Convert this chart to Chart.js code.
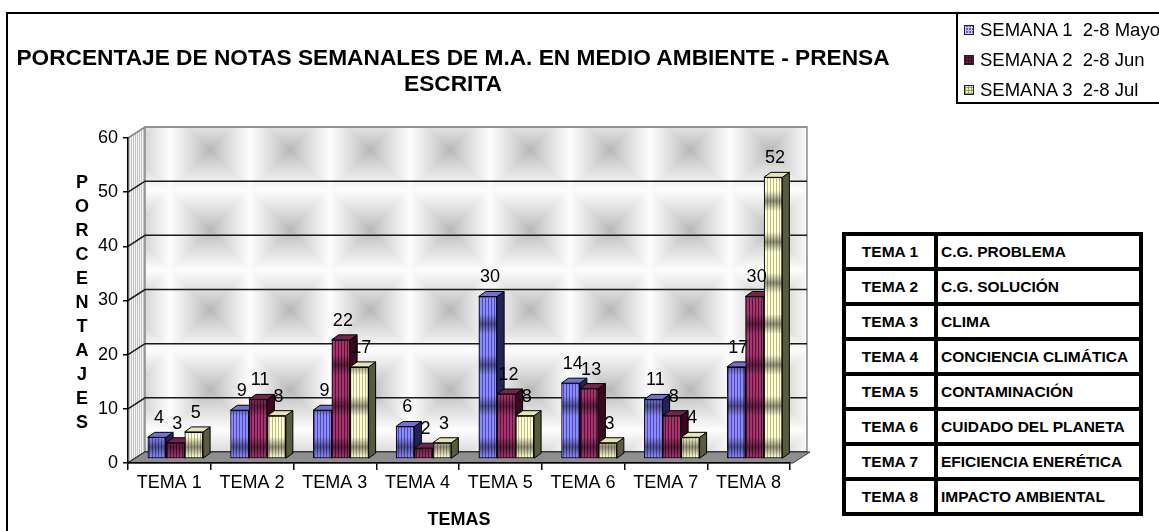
<!DOCTYPE html>
<html><head><meta charset="utf-8">
<script src="https://cdn.jsdelivr.net/npm/chart.js@4.4.0/dist/chart.umd.min.js"></script>
<style>
html,body{margin:0;padding:0;background:#fff;}
body{width:1159px;height:531px;position:relative;overflow:hidden;font-family:"Liberation Sans",Arial,sans-serif;color:#000;}
#frame{position:absolute;left:6px;top:12px;width:1300px;height:700px;border:2px solid #000;box-sizing:border-box;}
#cv{position:absolute;left:0;top:0;}
#title{position:absolute;left:0;top:44px;width:906px;text-align:center;font-weight:bold;font-size:22.7px;line-height:26px;white-space:nowrap;}
#ytitle{position:absolute;left:70px;top:170px;width:24px;text-align:center;font-weight:bold;font-size:18px;line-height:24px;}
#legend{position:absolute;left:956px;top:12px;width:300px;height:92px;border:2px solid #000;box-sizing:border-box;background:#fff;font-size:18.5px;padding-top:1px;}
.lrow{height:30px;line-height:30px;white-space:pre;position:relative;padding-left:22px;}
.mk{position:absolute;left:6px;top:10px;width:10px;height:10px;box-sizing:border-box;border:1px solid #222;}
#table{position:absolute;left:842px;top:232px;background:#000;padding:4px;display:grid;grid-template-columns:88px 201px;grid-auto-rows:31px;gap:4px;}
#table div{background:#fff;font-weight:bold;font-size:15.5px;line-height:31px;white-space:nowrap;overflow:hidden;}
#table .c1{text-align:center;}
#table .c2{padding-left:3px;}
</style>
</head><body>
<div id="frame"></div>
<canvas id="cv" width="1159" height="531"></canvas>
<div id="title"></div>
<div id="ytitle"></div>
<div id="legend"></div>
<div id="table"></div>
<script>
// ---------- data ----------
const chartTitle = ['PORCENTAJE DE NOTAS SEMANALES DE M.A. EN MEDIO AMBIENTE - PRENSA', 'ESCRITA'];
const yAxisTitle = 'PORCENTAJES';
const xAxisTitle = 'TEMAS';
const categories = ['TEMA 1','TEMA 2','TEMA 3','TEMA 4','TEMA 5','TEMA 6','TEMA 7','TEMA 8'];
const seriesNames = ['SEMANA 1  2-8 Mayo','SEMANA 2  2-8 Jun','SEMANA 3  2-8 Jul'];
const semana1 = [4, 9, 9, 6, 30, 14, 11, 17];
const semana2 = [3, 11, 22, 2, 12, 13, 8, 30];
const semana3 = [5, 8, 17, 3, 8, 3, 4, 52];
const yTicks = [0, 10, 20, 30, 40, 50, 60];
const temaNames = ['C.G. PROBLEMA','C.G. SOLUCIÓN','CLIMA','CONCIENCIA CLIMÁTICA','CONTAMINACIÓN','CUIDADO DEL PLANETA','EFICIENCIA ENERÉTICA','IMPACTO AMBIENTAL'];

// ---------- styles ----------
const FONT = '"Liberation Sans", Arial, sans-serif';
const frontLight = ['#8c8cff', '#a3366f', '#ffffd0'];
const frontDark  = ['#4c4cb0', '#5e1038', '#b8b890'];
const sideColors = ['#23235a', '#3a0820', '#5a5a3c'];
const topColors  = ['#7070d8', '#7a1f4f', '#e6e6b4'];
const markerBg = ['#5f5fe6', '#7a1a48', '#f2f2c0'];
const markerLine = ['#c8c8ff', '#3a0820', '#9a9a70'];

// ---------- html texts ----------
document.getElementById('title').innerHTML = chartTitle.join('<br>');
document.getElementById('ytitle').innerHTML = yAxisTitle.split('').join('<br>');
const lg = document.getElementById('legend');
seriesNames.forEach((n, i) => {
  const r = document.createElement('div'); r.className = 'lrow';
  const m = document.createElement('span'); m.className = 'mk';
  m.style.background = `repeating-linear-gradient(90deg, ${markerLine[i]} 0 1px, transparent 1px 3px), repeating-linear-gradient(0deg, ${markerLine[i]} 0 1px, ${markerBg[i]} 1px 3px)`;
  r.appendChild(m); r.appendChild(document.createTextNode(n)); lg.appendChild(r);
});
const tb = document.getElementById('table');
categories.forEach((c, i) => {
  const a = document.createElement('div'); a.className = 'c1'; a.textContent = c;
  const b = document.createElement('div'); b.className = 'c2'; b.textContent = temaNames[i];
  tb.appendChild(a); tb.appendChild(b);
});

// ---------- patterns ----------
const pctx = document.createElement('canvas').getContext('2d');
function barPattern(light, dark) {
  const c = document.createElement('canvas'); c.width = 3; c.height = 41;
  const g = c.getContext('2d');
  g.fillStyle = light; g.fillRect(0, 0, 3, 41);
  g.fillStyle = dark; g.fillRect(2, 0, 1, 41);
  const gr = g.createLinearGradient(0, 0, 0, 41);
  gr.addColorStop(0, 'rgba(0,0,0,0.45)'); gr.addColorStop(0.25, 'rgba(0,0,0,0)');
  gr.addColorStop(0.75, 'rgba(0,0,0,0)'); gr.addColorStop(1, 'rgba(0,0,0,0.45)');
  g.fillStyle = gr; g.fillRect(0, 0, 3, 41);
  return pctx.createPattern(c, 'repeat');
}
function wallPattern() {
  const s = 80, c = document.createElement('canvas'); c.width = s; c.height = s;
  const g = c.getContext('2d'); const im = g.createImageData(s, s); const h = s / 2;
  for (let y = 0; y < s; y++) for (let x = 0; x < s; x++) {
    const t = Math.max(Math.abs(x + 0.5 - h), Math.abs(y + 0.5 - h)) / h;
    const v = Math.round(180 + (253 - 180) * Math.pow(t, 0.8));
    const k = (y * s + x) * 4; im.data[k] = im.data[k + 1] = im.data[k + 2] = v; im.data[k + 3] = 255;
  }
  g.putImageData(im, 0, 0);
  const p = pctx.createPattern(c, 'repeat');
  p.setTransform(new DOMMatrix([1, 0, 0, 1, 10, 30]));
  return p;
}
function sidePattern() {
  const c = document.createElement('canvas'); c.width = 2; c.height = 2;
  const g = c.getContext('2d');
  g.fillStyle = '#f4f4f4'; g.fillRect(0, 0, 2, 2);
  g.fillStyle = '#c4c4c4'; g.fillRect(1, 0, 1, 2);
  return pctx.createPattern(c, 'repeat');
}
const WALL = wallPattern(), SIDE = sidePattern();

// ---------- 3D geometry ----------
const D = {x: 17, y: -11};   // floor / wall depth
const MID = {x: 6, y: -4};   // bar row position on the floor
const BD = {x: 7, y: -5};    // bar thickness

const box3d = {
  id: 'box3d',
  beforeDraw(chart) {
    const {ctx, chartArea: a, scales: {y}} = chart;
    ctx.save();
    ctx.beginPath();
    ctx.moveTo(a.left, a.top); ctx.lineTo(a.left + D.x, a.top + D.y);
    ctx.lineTo(a.left + D.x, a.bottom + D.y); ctx.lineTo(a.left, a.bottom); ctx.closePath();
    ctx.fillStyle = SIDE; ctx.fill();
    ctx.strokeStyle = '#8a8a8a'; ctx.lineWidth = 1; ctx.stroke();
    ctx.fillStyle = WALL;
    ctx.fillRect(a.left + D.x, a.top + D.y, a.right - a.left, a.bottom - a.top);
    ctx.strokeStyle = '#8a8a8a'; ctx.lineWidth = 1.5;
    ctx.strokeRect(a.left + D.x, a.top + D.y, a.right - a.left, a.bottom - a.top);
    yTicks.forEach(v => {
      const py = y.getPixelForValue(v);
      ctx.beginPath();
      ctx.moveTo(a.left, py); ctx.lineTo(a.left + D.x, py + D.y); ctx.lineTo(a.right + D.x, py + D.y);
      ctx.strokeStyle = (v === yTicks[yTicks.length - 1]) ? '#8a8a8a' : '#1a1a1a';
      ctx.lineWidth = 1.5; ctx.stroke();
    });
    ctx.beginPath();
    ctx.moveTo(a.left, a.bottom); ctx.lineTo(a.right + 3, a.bottom);
    ctx.lineTo(a.right + 3 + D.x, a.bottom + D.y); ctx.lineTo(a.left + D.x, a.bottom + D.y); ctx.closePath();
    ctx.fillStyle = '#8e8e8e'; ctx.fill();
    ctx.strokeStyle = '#3a3a3a'; ctx.lineWidth = 1; ctx.stroke();
    ctx.restore();
  },
  beforeDatasetsDraw(chart) {
    chart.ctx.save();
    chart.ctx.translate(MID.x, MID.y);
  },
  afterDatasetsDraw(chart) {
    const ctx = chart.ctx;
    const metas = chart.data.datasets.map((_, i) => chart.getDatasetMeta(i));
    for (let c = 0; c < categories.length; c++) {
      metas.forEach((m, s) => {
        const el = m.data[c];
        el.draw(ctx);
        const {x, y, base, width} = el.getProps(['x', 'y', 'base', 'width'], true);
        const l = x - width / 2, r = x + width / 2;
        ctx.save();
        ctx.lineWidth = 1; ctx.strokeStyle = '#000'; ctx.lineJoin = 'round';
        ctx.beginPath();
        ctx.moveTo(r, y); ctx.lineTo(r + BD.x, y + BD.y); ctx.lineTo(r + BD.x, base + BD.y); ctx.lineTo(r, base); ctx.closePath();
        ctx.fillStyle = sideColors[s]; ctx.fill(); ctx.stroke();
        ctx.beginPath();
        ctx.moveTo(l, y); ctx.lineTo(l + BD.x, y + BD.y); ctx.lineTo(r + BD.x, y + BD.y); ctx.lineTo(r, y); ctx.closePath();
        ctx.fillStyle = topColors[s]; ctx.fill(); ctx.stroke();
        ctx.restore();
      });
    }
    ctx.font = '18px ' + FONT; ctx.fillStyle = '#000';
    ctx.textAlign = 'center'; ctx.textBaseline = 'middle';
    metas.forEach((m, s) => m.data.forEach((el, c) => {
      ctx.fillText(String(chart.data.datasets[s].data[c]), el.x + 2, el.y - 19);
    }));
    ctx.restore();
  }
};

const seriesData = [semana1, semana2, semana3];
new Chart(document.getElementById('cv'), {
  type: 'bar',
  data: {
    labels: categories,
    datasets: seriesData.map((d, i) => ({
      label: seriesNames[i],
      data: d,
      backgroundColor: barPattern(frontLight[i], frontDark[i]),
      borderColor: '#000',
      borderWidth: 1,
      borderSkipped: false,
      categoryPercentage: 0.67,
      barPercentage: 1.0,
      clip: false
    }))
  },
  options: {
    responsive: false, animation: false, devicePixelRatio: 1,
    layout: {padding: {left: 0, right: 369, top: 138, bottom: 0}},
    plugins: {legend: {display: false}, title: {display: false}, tooltip: {enabled: false}},
    scales: {
      x: {
        grid: {display: true, drawOnChartArea: false, tickLength: 7, color: '#000', lineWidth: 1.5, offset: true},
        border: {display: true, color: '#000', width: 1.5},
        ticks: {font: {size: 18, family: FONT}, color: '#000', padding: 2, maxRotation: 0, autoSkip: false},
        title: {display: true, text: xAxisTitle, font: {size: 18, weight: 'bold', family: FONT}, color: '#000', padding: 0},
        afterFit(s) { s.height = 68; }
      },
      y: {
        min: 0, max: 60,
        afterBuildTicks(s) { s.ticks = yTicks.map(v => ({value: v})); },
        grid: {display: true, drawOnChartArea: false, tickLength: 5, color: '#000', lineWidth: 1.5},
        border: {display: true, color: '#000', width: 1.5},
        ticks: {font: {size: 18, family: FONT}, color: '#000', padding: 5},
        afterFit(s) { s.width = 128; }
      }
    }
  },
  plugins: [box3d]
});
</script>
</body></html>
